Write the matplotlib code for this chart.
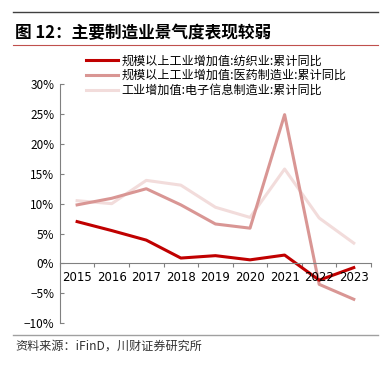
import matplotlib.pyplot as plt
from matplotlib.lines import Line2D
from matplotlib.ticker import FuncFormatter, FixedLocator

plt.rcParams['font.family'] = ['Noto Sans CJK SC', 'DejaVu Sans']
plt.rcParams['axes.unicode_minus'] = True

years = ['2015', '2016', '2017', '2018', '2019', '2020', '2021', '2022', '2023']
textile = [7.0, 5.5, 3.9, 0.9, 1.3, 0.6, 1.4, -2.8, -0.7]
pharma = [9.8, 10.9, 12.5, 9.8, 6.6, 5.9, 24.9, -3.5, -6.0]
electronic = [10.5, 10.0, 13.9, 13.1, 9.4, 7.7, 15.8, 7.6, 3.4]

names = ['规模以上工业增加值:纺织业:累计同比',
         '规模以上工业增加值:医药制造业:累计同比',
         '工业增加值:电子信息制造业:累计同比']
colors = ['#C00000', '#D99694', '#F2DCDB']

fig = plt.figure(figsize=(3.91, 3.66), dpi=100)
ax = fig.add_axes([0.153, 0.117, 0.796, 0.653])

x = range(len(years))
ax.plot(x, electronic, color=colors[2], lw=2.2)
ax.plot(x, pharma, color=colors[1], lw=2.2)
ax.plot(x, textile, color=colors[0], lw=2.2)

ax.set_xlim(-0.5, len(years) - 0.5)
ax.set_ylim(-10, 30)
ax.set_yticks(range(-10, 31, 5))
ax.yaxis.set_major_formatter(FuncFormatter(lambda v, p: f'{v:.0f}%'.replace('-', '−')))
ax.tick_params(axis='y', direction='in', length=3, labelsize=8.5, color='#808080', pad=4)

ax.spines['top'].set_visible(False)
ax.spines['right'].set_visible(False)
ax.spines['bottom'].set_position(('data', 0))
for s in ['left', 'bottom']:
    ax.spines[s].set_color('#808080')
    ax.spines[s].set_linewidth(0.8)

ax.xaxis.set_major_locator(FixedLocator([i - 0.5 for i in range(len(years) + 1)]))
ax.xaxis.set_major_formatter(FuncFormatter(lambda v, p: ''))
ax.tick_params(axis='x', direction='out', length=3, color='#808080')
for i, y in enumerate(years):
    ax.text(i, -1.3, y, ha='center', va='top', fontsize=8.5, family='DejaVu Sans')

handles = [Line2D([], [], color=c, lw=2.2) for c in colors]
fig.legend(handles, names, loc='upper left', bbox_to_anchor=(0.205, 0.868),
           frameon=False, fontsize=8.7, handlelength=2.6, handletextpad=0.3,
           labelspacing=0.15, borderpad=0)

fig.add_artist(Line2D([0.033, 0.967], [0.967, 0.967], color='#404040', lw=1))
fig.text(0.038, 0.91, '图 12：主要制造业景气度表现较弱', fontsize=12,
         fontweight='bold', va='center', ha='left')
fig.add_artist(Line2D([0.033, 0.967], [0.878, 0.878], color='#C0504D', lw=0.8))

fig.add_artist(Line2D([0.033, 0.967], [0.085, 0.085], color='#A0A0A0', lw=1))
fig.text(0.04, 0.055, '资料来源：iFinD，川财证券研究所', fontsize=8.7,
         style='italic', va='center', ha='left', color='#333333')

fig.savefig('out.png', dpi=100)
